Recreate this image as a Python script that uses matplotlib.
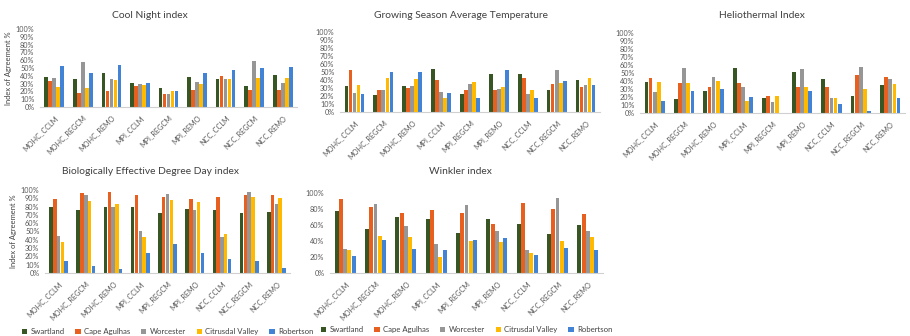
import numpy as np
import matplotlib
matplotlib.use("Agg")
import matplotlib.pyplot as plt

plt.rcParams['font.family'] = ['Lato', 'DejaVu Sans']

models = ['MOHC_CCLM', 'MOHC_REGCM', 'MOHC_REMO', 'MPI_CCLM', 'MPI_REGCM',
          'MPI_REMO', 'NCC_CCLM', 'NCC_REGCM', 'NCC_REMO']
regions = ['Swartland', 'Cape Agulhas', 'Worcester', 'Citrusdal Valley', 'Robertson']
colors = ['#375623', '#E8601F', '#969696', '#FFB900', '#4383D6']

# index of agreement (%), one row per model, columns follow `regions`
cool_night = [
    [38, 33, 37, 26, 52],
    [36, 18, 58, 25, 43],
    [44, 20, 36, 34, 54],
    [31, 27, 30, 28, 31],
    [24, 17, 17, 20, 20],
    [38, 22, 32, 30, 43],
    [36, 40, 36, 36, 48],
    [27, 22, 59, 37, 50],
    [41, 22, 31, 37, 51],
]
growing_season_temp = [
    [32.5, 53, 24, 34, 23],
    [21, 28, 28, 42.5, 50],
    [33, 30, 32, 41, 50],
    [54, 40, 25, 17, 24],
    [23, 28, 35, 37.5, 17.5],
    [48, 28, 29, 31, 52.5],
    [47.5, 42, 22, 27, 17.5],
    [27.5, 34.5, 52.5, 36.7, 38.7],
    [40, 31, 34, 42, 33.7],
]
heliothermal = [
    [39, 44, 26, 38.6, 15],
    [17.4, 37, 56, 37, 27],
    [28, 33, 45.6, 40, 29.5],
    [56, 37, 33, 15, 19.5],
    [18.7, 21.6, 13.3, 21.6, 0],
    [51.5, 33, 55.6, 32.4, 27.4],
    [43, 33, 18.7, 18.7, 11],
    [20.7, 47.3, 57.3, 29.5, 2.5],
    [34.4, 44.4, 42.7, 36, 18.3],
]
bedd = [
    [79, 89, 45, 37.6, 15],
    [76, 96, 93.6, 86.4, 9],
    [79, 97, 79.6, 83, 5],
    [79, 94.4, 51, 43.6, 23.6],
    [72, 91.6, 95, 88.4, 35],
    [77, 89, 76, 85, 23.6],
    [76, 92, 43.6, 47, 17],
    [72, 93.6, 98, 91.6, 15],
    [74, 93.6, 83.6, 90.8, 5.6],
]
winkler = [
    [77, 92, 30.5, 29, 21.5],
    [55, 82, 86.4, 46.7, 41.3],
    [70, 75, 58.7, 45, 30.6],
    [67, 78.5, 36, 20, 29.3],
    [49.6, 75, 85, 40, 41.3],
    [67.4, 61, 53, 39, 43.4],
    [61, 88, 29, 25.6, 22],
    [48.3, 80.6, 93.8, 39.7, 31.8],
    [59.5, 74, 52.5, 45, 29],
]

W, H = 910, 336
fig = plt.figure(figsize=(W / 100, H / 100), dpi=100)


def px_axes(left, top, right, bottom):
    return fig.add_axes([left / W, 1 - bottom / H, (right - left) / W, (bottom - top) / H])


def bar_panel(ax, data, ystep, ylabel=None, legend=False):
    data = np.array(data)
    x = np.arange(len(models))
    step = 0.14
    for i, name in enumerate(regions):
        ax.bar(x + (i - 2) * step, data[:, i], width=0.128, color=colors[i], label=name)
    ax.set_xlim(-0.5, len(models) - 0.5)
    ax.set_ylim(0, 100)
    ticks = np.arange(0, 101, ystep)
    ax.set_yticks(ticks)
    ax.set_yticklabels([f'{t}%' for t in ticks])
    ax.set_xticks(x)
    ax.set_xticklabels(models, rotation=45, ha='right', rotation_mode='anchor')
    ax.tick_params(axis='both', length=0, labelsize=5.2, labelcolor='#595959')
    ax.tick_params(axis='y', pad=4)
    ax.tick_params(axis='x', pad=5)
    for side in ['top', 'right', 'left']:
        ax.spines[side].set_visible(False)
    ax.spines['bottom'].set_color('#d0d0d0')
    ax.spines['bottom'].set_linewidth(0.8)
    if ylabel:
        ax.set_ylabel(ylabel, fontsize=5.4, color='#404040', labelpad=3)
    if legend:
        ax.legend(loc='upper center', bbox_to_anchor=(0.5, -0.58), ncol=5, frameon=False,
                  fontsize=5.6, handlelength=0.7, handleheight=0.7, handletextpad=0.4,
                  columnspacing=1.4, labelcolor='#404040')


ax1 = px_axes(40, 29, 297, 107)
bar_panel(ax1, cool_night, 10, ylabel='Index of Agreement %')
ax2 = px_axes(340, 32, 600, 112)
bar_panel(ax2, growing_season_temp, 10)
ax3 = px_axes(640, 33, 905, 113)
bar_panel(ax3, heliothermal, 10)
ax4 = px_axes(45, 190, 290, 273)
bar_panel(ax4, bedd, 10, ylabel='Index of Agreement %', legend=True)
ax5 = px_axes(330, 193, 603, 273)
bar_panel(ax5, winkler, 20, legend=True)

titles = [
    ('Cool Night index', 150, 15),
    ('Growing Season Average Temperature', 461, 15),
    ('Heliothermal Index', 762, 16),
    ('Biologically Effective Degree Day index', 151, 172),
    ('Winkler index', 460, 172),
]
for text, tx, ty in titles:
    fig.text(tx / W, 1 - ty / H, text, ha='center', va='center', fontsize=7.4, color='#404040')

fig.savefig('out.png', dpi=100, facecolor='white')
